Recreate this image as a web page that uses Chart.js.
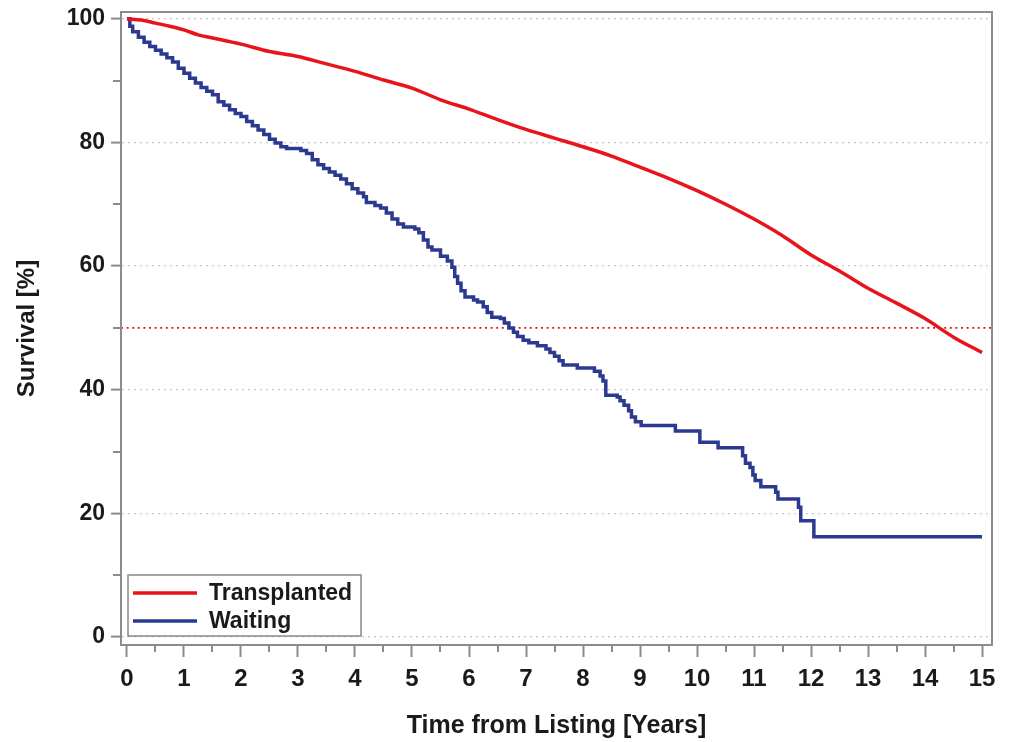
<!DOCTYPE html>
<html><head><meta charset="utf-8">
<script src="https://cdn.jsdelivr.net/npm/chart.js@4.4.0/dist/chart.umd.min.js"></script>
<style>html,body{margin:0;padding:0;background:#fff;}#c{display:block;}</style>
</head><body>
<canvas id="c" width="1013" height="742"></canvas>
<script>
const seriesNames = ['Transplanted', 'Waiting'];

const transplantedYears = [0, 0.25, 0.5, 0.75, 1, 1.25, 1.5, 2, 2.5, 3, 3.5, 4, 4.5, 5, 5.5, 6, 6.5, 7, 7.5, 8, 8.5, 9, 9.5, 10, 10.5, 11, 11.5, 12, 12.5, 13, 13.5, 14, 14.5, 15];
const transplantedSurvival = [100, 99.8, 99.3, 98.8, 98.2, 97.4, 96.9, 95.9, 94.7, 93.9, 92.7, 91.5, 90.1, 88.8, 86.9, 85.4, 83.7, 82.1, 80.7, 79.3, 77.8, 76.0, 74.2, 72.2, 70.0, 67.6, 64.9, 61.8, 59.2, 56.4, 54.0, 51.5, 48.5, 46.0];

const waitingYears = [0, 0.05, 0.1, 0.2, 0.3, 0.4, 0.5, 0.6, 0.7, 0.8, 0.9, 1.0, 1.1, 1.2, 1.3, 1.4, 1.5, 1.6, 1.7, 1.8, 1.9, 2.0, 2.1, 2.2, 2.3, 2.4, 2.5, 2.6, 2.7, 2.8, 3.05, 3.15, 3.25, 3.35, 3.45, 3.55, 3.65, 3.75, 3.85, 3.95, 4.05, 4.15, 4.2, 4.35, 4.45, 4.55, 4.65, 4.75, 4.85, 5.05, 5.12, 5.2, 5.28, 5.35, 5.5, 5.62, 5.7, 5.75, 5.8, 5.86, 5.93, 6.08, 6.15, 6.25, 6.32, 6.4, 6.55, 6.62, 6.7, 6.78, 6.85, 6.95, 7.05, 7.2, 7.35, 7.42, 7.5, 7.58, 7.65, 7.9, 8.2, 8.3, 8.35, 8.4, 8.6, 8.65, 8.72, 8.8, 8.85, 8.92, 9.02, 9.62, 10.05, 10.37, 10.8, 10.85, 10.93, 10.98, 11.02, 11.12, 11.38, 11.42, 11.78, 11.82, 12.05, 15.0];
const waitingSurvival = [100, 98.8, 97.9, 97.0, 96.2, 95.5, 94.9, 94.3, 93.7, 93.0, 92.0, 91.2, 90.4, 89.6, 88.9, 88.3, 87.7, 86.6, 86.0, 85.3, 84.7, 84.2, 83.4, 82.7, 82.0, 81.3, 80.5, 79.9, 79.3, 79.0, 78.7, 78.2, 77.2, 76.4, 75.8, 75.2, 74.7, 74.1, 73.3, 72.5, 71.8, 71.2, 70.3, 69.8, 69.4, 68.6, 67.6, 66.8, 66.3, 66.0, 65.4, 64.2, 63.1, 62.6, 61.6, 60.8, 59.8, 58.3, 57.2, 56.0, 55.0, 54.5, 54.2, 53.4, 52.5, 51.7, 51.5, 50.8, 50.0, 49.3, 48.6, 48.0, 47.6, 47.1, 46.6, 46.0, 45.4, 44.7, 44.0, 43.5, 43.0, 42.2, 41.4, 39.1, 38.8, 38.2, 37.5, 36.6, 35.6, 34.8, 34.2, 33.3, 31.5, 30.6, 29.3, 28.1, 27.4, 26.2, 25.3, 24.3, 23.4, 22.3, 21.0, 18.8, 16.2, 16.2];

const xMajorTicks = [0, 1, 2, 3, 4, 5, 6, 7, 8, 9, 10, 11, 12, 13, 14, 15];
const xMinorTicks = [0.5, 1.5, 2.5, 3.5, 4.5, 5.5, 6.5, 7.5, 8.5, 9.5, 10.5, 11.5, 12.5, 13.5, 14.5];
const yMajorTicks = [0, 20, 40, 60, 80, 100];
const yMinorTicks = [10, 30, 50, 70, 90];
const medianSurvival = 50;
const xRange = [-0.105, 15.175];
const yRange = [-1.3, 101.1];

const RED = '#e8141c';
const BLUE = '#2b3990';
const AXIS = '#8c8c8c';
const TEXT = '#1a1a1a';

Chart.defaults.font.family = "'Liberation Sans', Arial, Helvetica, sans-serif";
Chart.defaults.color = TEXT;

function toPoints(xs, ys) { return xs.map((x, i) => ({ x: x, y: ys[i] })); }

const extras = {
  id: 'extras',
  beforeDatasetsDraw(chart) {
    const { ctx, chartArea: a, scales: { y } } = chart;
    const py = y.getPixelForValue(medianSurvival);
    ctx.save();
    ctx.strokeStyle = RED;
    ctx.lineWidth = 1.6;
    ctx.setLineDash([2, 3.6]);
    ctx.beginPath();
    ctx.moveTo(a.left, py);
    ctx.lineTo(a.right, py);
    ctx.stroke();
    ctx.restore();
  },
  afterDatasetsDraw(chart) {
    const { ctx, chartArea: a, scales: { x, y } } = chart;
    ctx.save();
    ctx.strokeStyle = AXIS;
    ctx.lineWidth = 2;
    ctx.strokeRect(a.left, a.top, a.right - a.left, a.bottom - a.top);
    ctx.beginPath();
    xMinorTicks.forEach(v => {
      const px = Math.round(x.getPixelForValue(v));
      ctx.moveTo(px, a.bottom);
      ctx.lineTo(px, a.bottom + 7);
    });
    yMinorTicks.forEach(v => {
      const py = Math.round(y.getPixelForValue(v));
      ctx.moveTo(a.left - 8, py);
      ctx.lineTo(a.left, py);
    });
    ctx.stroke();
    const lx = a.left + 7, lw = 233, lh = 61, ly = a.bottom - 9 - lh;
    ctx.fillStyle = '#fff';
    ctx.fillRect(lx, ly, lw, lh);
    ctx.strokeStyle = '#888';
    ctx.lineWidth = 1.5;
    ctx.strokeRect(lx, ly, lw, lh);
    const colors = [RED, BLUE];
    ctx.font = "bold 23px 'Liberation Sans', Arial, sans-serif";
    ctx.textBaseline = 'middle';
    ctx.textAlign = 'left';
    seriesNames.forEach((name, i) => {
      const cy = ly + 18 + i * 28;
      ctx.strokeStyle = colors[i];
      ctx.lineWidth = 3.5;
      ctx.beginPath();
      ctx.moveTo(lx + 5, cy);
      ctx.lineTo(lx + 69, cy);
      ctx.stroke();
      ctx.fillStyle = TEXT;
      ctx.fillText(name, lx + 81, cy + 1);
    });
    ctx.restore();
  }
};

new Chart(document.getElementById('c'), {
  type: 'line',
  data: {
    datasets: [
      {
        label: seriesNames[0],
        data: toPoints(transplantedYears, transplantedSurvival),
        borderColor: RED,
        borderWidth: 3.5,
        pointRadius: 0,
        cubicInterpolationMode: 'monotone',
        fill: false
      },
      {
        label: seriesNames[1],
        data: toPoints(waitingYears, waitingSurvival),
        borderColor: BLUE,
        borderWidth: 3.5,
        pointRadius: 0,
        stepped: 'before',
        fill: false
      }
    ]
  },
  options: {
    responsive: false,
    animation: false,
    devicePixelRatio: 1,
    layout: { padding: { top: 12, right: 21, left: 0, bottom: 0 } },
    plugins: { legend: { display: false }, tooltip: { enabled: false } },
    scales: {
      x: {
        type: 'linear',
        min: xRange[0],
        max: xRange[1],
        afterBuildTicks: s => { s.ticks = xMajorTicks.map(v => ({ value: v })); },
        afterFit: s => { s.height = 97; s.paddingLeft = 0; s.paddingRight = 0; },
        ticks: {
          autoSkip: false, maxRotation: 0, padding: 8,
          font: { size: 24, weight: 'bold' }, color: TEXT,
          callback: v => String(v)
        },
        grid: { drawOnChartArea: false, drawTicks: true, tickLength: 12, tickColor: AXIS, tickWidth: 2 },
        border: { color: AXIS, width: 2 },
        title: { display: true, text: 'Time from Listing [Years]', font: { size: 25, weight: 'bold' }, color: TEXT, padding: { top: 0, bottom: 1 } }
      },
      y: {
        min: yRange[0],
        max: yRange[1],
        afterBuildTicks: s => { s.ticks = yMajorTicks.map(v => ({ value: v })); },
        afterFit: s => { s.width = 121; s.paddingTop = 0; s.paddingBottom = 0; },
        ticks: {
          padding: 6,
          font: { size: 23, weight: 'bold' }, color: TEXT,
          callback: v => String(v)
        },
        grid: { drawOnChartArea: true, color: '#c8c8c8', lineWidth: 1.2, drawTicks: true, tickLength: 10, tickColor: AXIS, tickWidth: 2 },
        border: { color: AXIS, width: 2, dash: [2, 4] },
        title: { display: true, text: 'Survival [%]', font: { size: 24, weight: 'bold' }, color: TEXT, padding: { top: 13, bottom: 0 } }
      }
    }
  },
  plugins: [extras]
});
</script>
</body></html>
